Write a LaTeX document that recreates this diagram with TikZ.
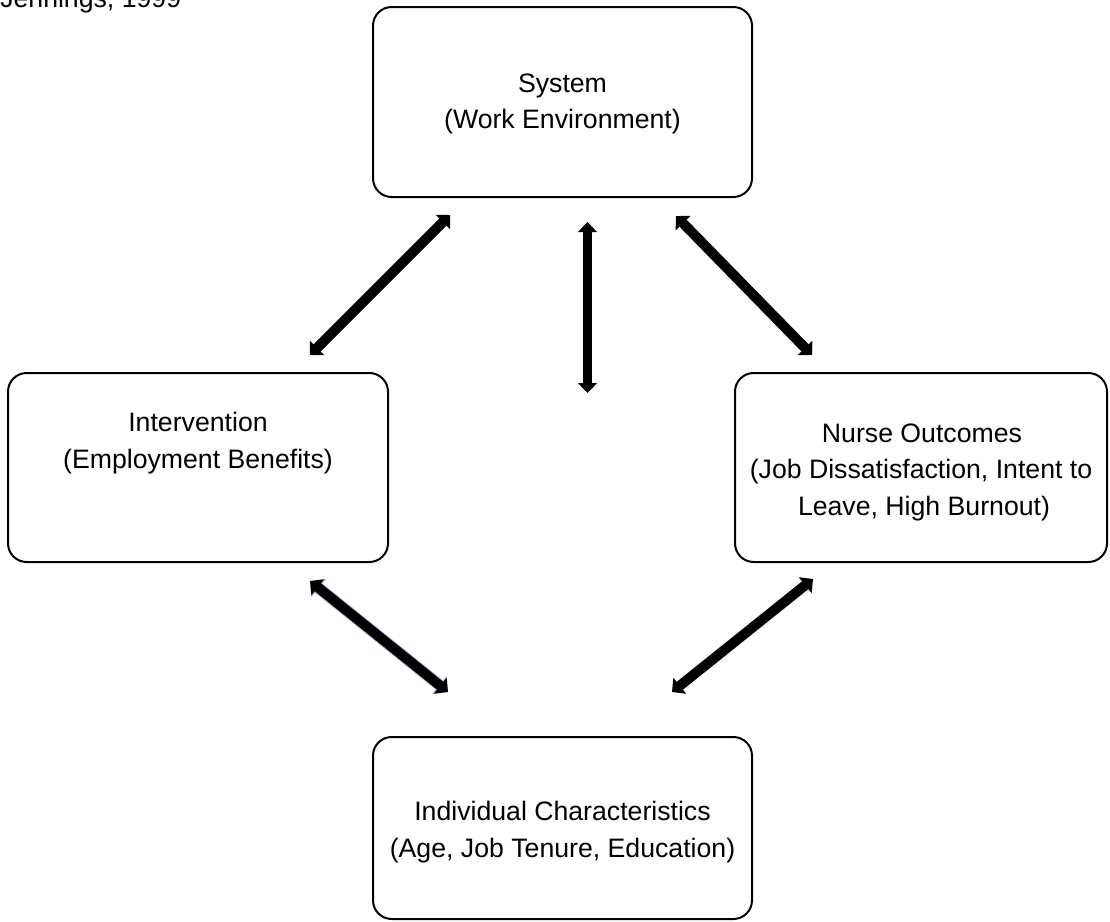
\documentclass[tikz,border=0pt]{standalone}
\usepackage{fontspec}
\setmainfont{Liberation Sans}
\usetikzlibrary{arrows.meta}
\definecolor{halo}{RGB}{170,190,230}
\begin{document}
\begin{tikzpicture}[x=0.75pt,y=-0.75pt,
  box/.style={draw=black, line width=1.5pt, rounded corners=14pt, inner sep=0pt},
  lbl/.style={font=\fontsize{20}{24}\selectfont, anchor=base, inner sep=0pt},
  dbl/.style={line width=7.5pt, {Triangle[length=7.5pt,width=15pt]}-{Triangle[length=7.5pt,width=15pt]}},
  vdbl/.style={line width=6.5pt, {Triangle[length=7.5pt,width=14pt]}-{Triangle[length=7.5pt,width=14pt]}}
]
\useasboundingbox (0,0) rectangle (1110,921);

% citation, cut off at the top edge as in the source
\node[font=\fontsize{20}{24}\selectfont, anchor=base west, inner sep=0pt] (cite) at (0,7.5) {Jennings, 1999};

% boxes
\node[box, minimum width=284.25pt, minimum height=142.5pt] (sys) at (562.5,102) {};
\node[box, minimum width=285pt, minimum height=141.75pt] (int) at (198,467.5) {};
\node[box, minimum width=279pt, minimum height=141.75pt] (nur) at (921,467.5) {};
\node[box, minimum width=284.25pt, minimum height=136.5pt] (ind) at (562.5,828) {};

% texts
\node[lbl] (sys-t1) at (562.5,92) {System};
\node[lbl] (sys-t2) at (562.5,128) {(Work Environment)};
\node[lbl] (int-t1) at (198,431) {Intervention};
\node[lbl] (int-t2) at (198,468) {(Employment Benefits)};
\node[lbl] (nur-t1) at (922,442) {Nurse Outcomes};
\node[lbl] (nur-t2) at (921,478) {(Job Dissatisfaction, Intent to};
\node[lbl] (nur-t3) at (924,515) {Leave, High Burnout)};
\node[lbl] (ind-t1) at (562.5,820) {Individual Characteristics};
\node[lbl] (ind-t2) at (562.5,857) {(Age, Job Tenure, Education)};

% arrow end points
\coordinate (tl-a) at (310,355);
\coordinate (tl-b) at (450,215);
\coordinate (v-a) at (587.5,222);
\coordinate (v-b) at (587.5,393);
\coordinate (tr-a) at (676,216);
\coordinate (tr-b) at (812,355);
\coordinate (bl-a) at (310,581);
\coordinate (bl-b) at (448,692);
\coordinate (br-a) at (813,579);
\coordinate (br-b) at (672,692);

% arrows
\draw[dbl] (tl-a) -- (tl-b);
\draw[vdbl] (v-a) -- (v-b);
\draw[dbl] (tr-a) -- (tr-b);
\draw[line width=9pt, draw=halo, {Triangle[length=8.5pt,width=17pt]}-{Triangle[length=8.5pt,width=17pt]}] (bl-a) -- (bl-b);
\draw[dbl] (bl-a) -- (bl-b);
\draw[dbl] (br-a) -- (br-b);
\end{tikzpicture}
\end{document}
